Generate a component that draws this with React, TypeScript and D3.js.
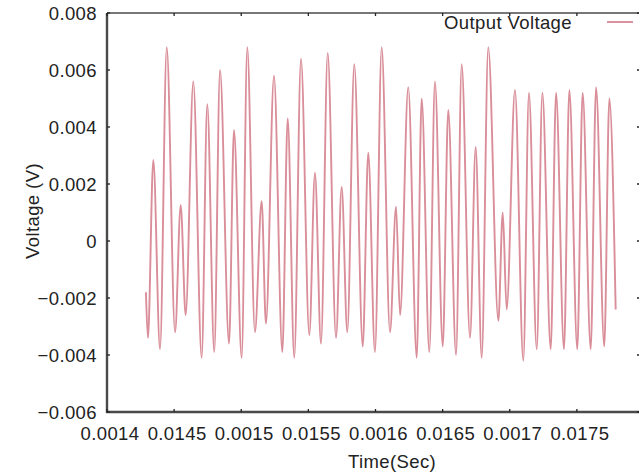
import React from "react";
import * as d3 from "d3";

const timeValues = [
  0.001429, 0.0014305, 0.0014345, 0.0014395, 0.0014445, 0.0014507, 0.0014549, 0.0014586,
  0.0014643, 0.0014705, 0.0014747, 0.0014799, 0.0014842, 0.0014909, 0.0014946, 0.0015003,
  0.0015045, 0.0015102, 0.0015152, 0.0015184, 0.0015244, 0.0015306, 0.0015346, 0.0015395,
  0.0015445, 0.0015507, 0.0015549, 0.0015594, 0.0015644, 0.0015706, 0.0015748, 0.001579,
  0.0015842, 0.0015905, 0.0015946, 0.0015996, 0.0016046, 0.0016108, 0.0016153, 0.0016183,
  0.0016244, 0.0016307, 0.0016344, 0.0016401, 0.0016443, 0.0016501, 0.0016542, 0.00166,
  0.0016642, 0.0016704, 0.0016746, 0.0016791, 0.001684, 0.0016915, 0.0016948, 0.0016977,
  0.0017039, 0.0017101, 0.0017143, 0.0017201, 0.0017243, 0.0017305, 0.0017345, 0.0017404,
  0.0017444, 0.0017503, 0.0017543, 0.0017603, 0.0017643, 0.0017704, 0.0017742, 0.0017789,
];

const voltageValues = [
  -0.0018, -0.0034, 0.00284, -0.0038, 0.0068, -0.0032, 0.00126, -0.0026,
  0.0056, -0.0041, 0.0048, -0.0039, 0.006, -0.0036, 0.0039, -0.0041,
  0.0068, -0.0032, 0.0014, -0.0029, 0.0058, -0.0039, 0.0043, -0.0041,
  0.0064, -0.0033, 0.0024, -0.0036, 0.0066, -0.0034, 0.0019, -0.0032,
  0.0062, -0.0037, 0.0031, -0.0039, 0.0068, -0.0032, 0.0012, -0.0026,
  0.0054, -0.0041, 0.005, -0.0039, 0.0056, -0.0037, 0.0046, -0.004,
  0.0062, -0.0034, 0.0033, -0.0041, 0.0068, -0.0028, 0.001, -0.0024,
  0.0053, -0.0042, 0.0052, -0.0038, 0.0052, -0.0038, 0.0052, -0.0038,
  0.0053, -0.0038, 0.0052, -0.0038, 0.0054, -0.0037, 0.005, -0.0024,
];

const xTickValues = [0.0014, 0.00145, 0.0015, 0.00155, 0.0016, 0.00165, 0.0017, 0.00175];
const xTickLabels = ["0.0014", "0.0145", "0.0015", "0.0155", "0.0016", "0.0165", "0.0017", "0.0175"];
const yTickValues = [0.008, 0.006, 0.004, 0.002, 0, -0.002, -0.004, -0.006];
const yTickLabels = ["0.008", "0.006", "0.004", "0.002", "0", "\u22120.002", "\u22120.004", "\u22120.006"];

const seriesName = "Output Voltage";
const xTitle = "Time(Sec)";
const yTitle = "Voltage (V)";

export default function App() {
  const W = 639;
  const H = 474;
  const x = d3.scaleLinear().domain([0.0014, 0.0018]).range([107, 644]);
  const y = d3.scaleLinear().domain([-0.006, 0.008]).range([412, 13]);
  const data = timeValues.map((t, i) => ({ t, v: voltageValues[i] }));
  const line = d3
    .line<{ t: number; v: number }>()
    .x((d) => x(d.t))
    .y((d) => y(d.v))
    .curve(d3.curveMonotoneX);
  const font = "'Liberation Sans', Arial, Helvetica, sans-serif";
  const left = x(0.0014);
  const right = x(0.0018);
  const top = y(0.008);
  const bottom = y(-0.006);
  const axisColor = "#4a4a4a";
  const lineColor = "#d98e99";
  const textColor = "#222";
  const fs = 18.5;
  const ls = 0.4;

  return (
    <div style={{ position: "absolute", left: 0, top: 0, width: W, height: H, overflow: "hidden", background: "#fff" }}>
      <svg width={W} height={H} style={{ display: "block" }} fontFamily={font}>
        <rect x={0} y={0} width={W} height={H} fill="#fff" />
        {/* data line */}
        <path d={line(data) || ""} fill="none" stroke={lineColor} strokeWidth={1.9} strokeLinejoin="round" />
        {/* frame */}
        <line x1={left} x2={right} y1={top} y2={top} stroke={axisColor} strokeWidth={1.6} />
        <line x1={right} x2={right} y1={top} y2={bottom} stroke={axisColor} strokeWidth={1.6} />
        <line x1={left} x2={left} y1={top} y2={bottom + 1} stroke={axisColor} strokeWidth={2.4} />
        <line x1={left - 1} x2={right} y1={bottom} y2={bottom} stroke={axisColor} strokeWidth={2.4} />
        {/* x ticks */}
        {xTickValues.map((v, i) => (
          <g key={"xt" + i}>
            <line x1={x(v)} x2={x(v)} y1={bottom} y2={bottom - 3} stroke="#222" strokeWidth={1.3} />
            <line x1={x(v)} x2={x(v)} y1={top} y2={top + 3} stroke="#222" strokeWidth={1.3} />
            <text x={x(v) + 3} y={440} textAnchor="middle" fontSize={fs} letterSpacing={ls} fill={textColor}>
              {xTickLabels[i]}
            </text>
          </g>
        ))}
        {/* y ticks */}
        {yTickValues.map((v, i) => (
          <g key={"yt" + i}>
            <line x1={left} x2={left + 3} y1={y(v)} y2={y(v)} stroke="#222" strokeWidth={1.3} />
            <line x1={right} x2={right - 7} y1={y(v)} y2={y(v)} stroke="#222" strokeWidth={1.3} />
            <text x={97} y={y(v) + 6.5} textAnchor="end" fontSize={fs} letterSpacing={ls} fill={textColor}>
              {yTickLabels[i]}
            </text>
          </g>
        ))}
        {/* axis titles */}
        <text x={392} y={468} textAnchor="middle" fontSize={fs} letterSpacing={ls} fill={textColor}>
          {xTitle}
        </text>
        <text transform={`translate(39,211) rotate(-90)`} textAnchor="middle" fontSize={fs} letterSpacing={ls} fill={textColor}>
          {yTitle}
        </text>
        {/* legend */}
        <text x={572} y={29} textAnchor="end" fontSize={fs} letterSpacing={ls} fill={textColor}>
          {seriesName}
        </text>
        <line x1={607} x2={633} y1={22} y2={22} stroke={lineColor} strokeWidth={1.9} />
      </svg>
    </div>
  );
}
